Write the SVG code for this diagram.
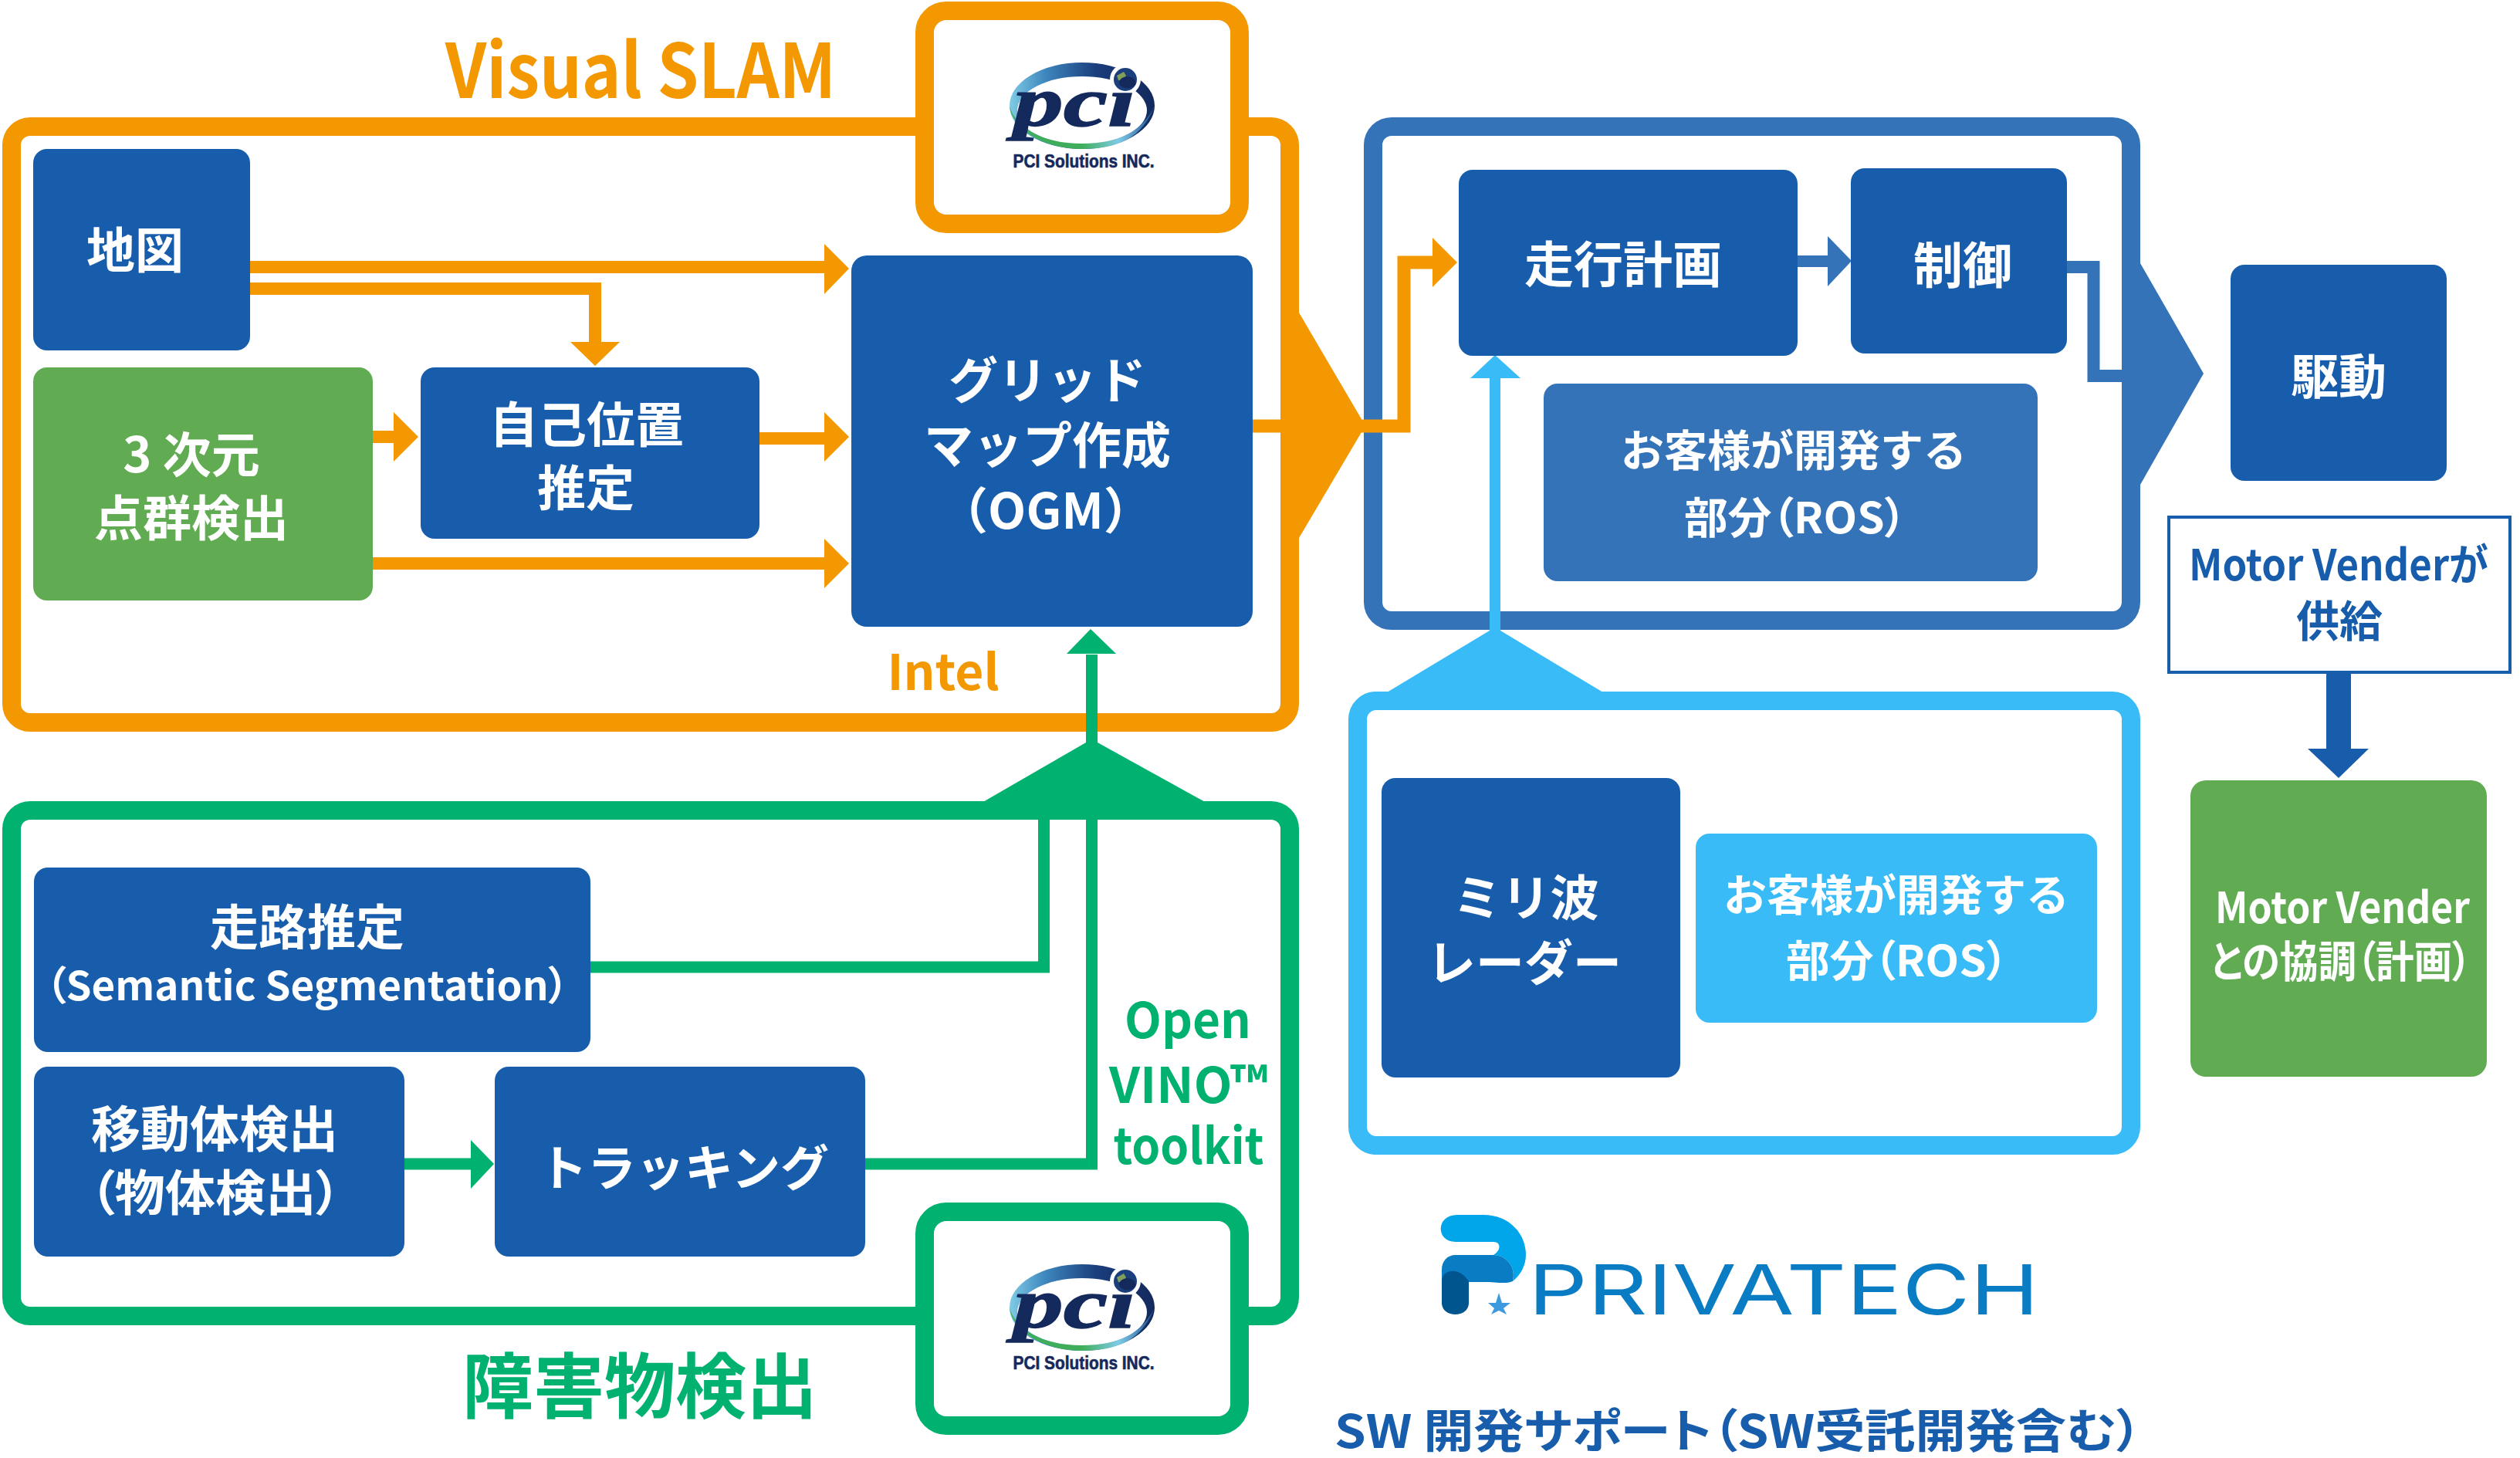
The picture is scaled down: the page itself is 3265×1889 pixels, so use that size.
<svg xmlns="http://www.w3.org/2000/svg" width="3265" height="1889" viewBox="0 0 3265 1889">
<style>
text{font-family:"Noto Sans CJK JP","Noto Sans",sans-serif;font-weight:700;text-anchor:middle}
.w{fill:#fff}.o{fill:#f39800}.g{fill:#00b16f}.b{fill:#175dac}.m{fill:#3573b9}.s{fill:#38bbf7}.l{fill:#61ab52}
.f{fill:none;stroke-width:24}
.pa{font-feature-settings:"palt"}
.p{font-family:"Liberation Sans",Arial,sans-serif;font-weight:700;fill:#14295c;stroke:#14295c;stroke-width:.6}
.pc{font-family:"Liberation Serif","Times New Roman",serif;font-weight:700;font-style:italic;fill:#14295c;stroke:#14295c;stroke-width:1.5}
.t60{font-size:63px}.t56{font-size:56px}
</style>
<defs>
<linearGradient id="ring" x1="0" y1="0.5" x2="1" y2="0.5"><stop offset="0" stop-color="#7fcbe6"/><stop offset="0.25" stop-color="#3d86bd"/><stop offset="0.6" stop-color="#1a3d7c"/><stop offset="1" stop-color="#14295c"/></linearGradient>
<linearGradient id="ringlow" x1="0" y1="0" x2="1" y2="0"><stop offset="0" stop-color="#3fae5a"/><stop offset="0.5" stop-color="#3fae5a"/><stop offset="0.75" stop-color="#7fcbe6"/><stop offset="1" stop-color="#1a4f92"/></linearGradient>
</defs>
<rect width="3265" height="1889" fill="#fff"/>

<g id="frame-slam"><rect class="f" x="15" y="164" width="1656" height="772" rx="24" stroke="#f39800"/>
<polygon class="o" points="1683,405 1764,543 1764,560 1683,697"/>
<text class="o" x="830" y="127" font-size="97" textLength="506" lengthAdjust="spacingAndGlyphs">Visual SLAM</text>
<text class="o" x="1222" y="894" font-size="64">Intel</text></g>
<g id="logo-pci-top"><rect class="f" x="1198" y="14" width="408" height="276" rx="28" style="fill:#fff" stroke="#f39800"/>
<path d="M1308,137a94,56 0 1 1 188,0a94,56 0 1 1-188,0ZM1318,143a84,44 0 1 0 168,0a84,44 0 1 0-168,0Z" fill-rule="evenodd" fill="url(#ring)"/>
<path d="M1308,137C1310,165 1350,193 1402,193C1450,193 1480,178 1496,137C1480,170 1450,186 1402,186C1350,186 1315,165 1308,137Z" fill="url(#ringlow)"/>
<circle cx="1458" cy="103" r="20" fill="#fff"/><circle cx="1458" cy="103" r="15" fill="#1b3f7c"/><path d="M1447,98l9-5 3,5-5,7-5-1ZM1458,110l8-2-2,5Z" fill="#7f9f5a"/>
<text class="pc" x="1392" y="163" font-size="90" textLength="158" lengthAdjust="spacingAndGlyphs">pci</text>
<text class="p" x="1404" y="217" font-size="23" textLength="183" lengthAdjust="spacingAndGlyphs">PCI Solutions INC.</text></g>

<g id="frame-obstacle"><rect class="f" x="15" y="1050" width="1656" height="655" rx="24" stroke="#00b16f"/>
<polygon class="g" points="1272,1040 1407,962 1422,962 1563,1040"/>
<text class="g" x="829" y="1830" font-size="92" textLength="460" lengthAdjust="spacingAndGlyphs">障害物検出</text>
<text class="g" x="1539" y="1345" font-size="64" textLength="164" lengthAdjust="spacingAndGlyphs">Open</text>
<text class="g" x="1540" y="1429" font-size="64" textLength="206" lengthAdjust="spacingAndGlyphs">VINO™</text>
<text class="g" x="1540" y="1508" font-size="64" textLength="195" lengthAdjust="spacingAndGlyphs">toolkit</text></g>
<g id="logo-pci-bottom" transform="translate(0,1557)"><rect class="f" x="1198" y="13" width="408" height="277" rx="28" style="fill:#fff" stroke="#00b16f"/>
<path d="M1308,137a94,56 0 1 1 188,0a94,56 0 1 1-188,0ZM1318,143a84,44 0 1 0 168,0a84,44 0 1 0-168,0Z" fill-rule="evenodd" fill="url(#ring)"/>
<path d="M1308,137C1310,165 1350,193 1402,193C1450,193 1480,178 1496,137C1480,170 1450,186 1402,186C1350,186 1315,165 1308,137Z" fill="url(#ringlow)"/>
<circle cx="1458" cy="103" r="20" fill="#fff"/><circle cx="1458" cy="103" r="15" fill="#1b3f7c"/><path d="M1447,98l9-5 3,5-5,7-5-1ZM1458,110l8-2-2,5Z" fill="#7f9f5a"/>
<text class="pc" x="1392" y="163" font-size="90" textLength="158" lengthAdjust="spacingAndGlyphs">pci</text>
<text class="p" x="1404" y="217" font-size="23" textLength="183" lengthAdjust="spacingAndGlyphs">PCI Solutions INC.</text></g>

<g id="frame-plan"><rect class="f" x="1779" y="164" width="982" height="640" rx="24" stroke="#3573b9"/>
<polygon class="m" points="2773,341 2855,484 2773,628"/></g>
<g id="frame-radar"><rect class="f" x="1759" y="908" width="1002" height="576" rx="24" stroke="#38bbf7"/>
<polygon class="s" points="1797,897 1930,817 1944,817 2077,897"/></g>

<g id="connectors">
<g fill="none" stroke="#f39800">
<path stroke-width="16" d="M324,346H1070"/>
<path stroke-width="16" d="M324,374H771V445"/>
<path stroke-width="16" d="M483,566H510"/>
<path stroke-width="16" d="M984,568H1070"/>
<path stroke-width="16" d="M483,730H1070"/>
<path stroke-width="17" d="M1623,552H1819V340H1858"/></g>
<polygon class="o" points="739,443 803,443 771,474"/>
<polygon class="o" points="510,534 542,566 510,598"/>
<polygon class="o" points="1068,316 1100,348 1068,381"/>
<polygon class="o" points="1068,534 1100,566 1068,598"/>
<polygon class="o" points="1068,698 1100,730 1068,762"/>
<polygon class="o" points="1856,308 1888,340 1856,372"/>
<g fill="none" stroke="#00b16f" stroke-width="15">
<path d="M1414.500,962V848"/><path d="M1414.500,1061V1508H1121"/><path d="M765,1253H1352.500V1061"/><path d="M524,1508H612"/></g>
<polygon class="g" points="1382,847 1446,847 1413,815"/>
<polygon class="g" points="610,1477 640,1508 610,1540"/>
<g fill="none" stroke="#3573b9"><path stroke-width="15" d="M2329,338.500H2370"/><path stroke-width="16" d="M2678,346H2712.500V487H2750"/></g>
<polygon class="m" points="2368,306 2399,338 2368,371"/>
<path d="M1937,820V488" fill="none" stroke="#38bbf7" stroke-width="14"/>
<polygon class="s" points="1905,490 1970,490 1937,460"/>
<path d="M3030,871V972" fill="none" stroke="#175dac" stroke-width="32"/>
<polygon class="b" points="2990,970 3069,970 3030,1008"/>
</g>

<g id="n-map"><rect class="b" x="43" y="193" width="281" height="261" rx="18"/><text class="w t60" x="175" y="347">地図</text></g>
<g id="n-3d"><rect class="l" x="43" y="476" width="440" height="302" rx="18"/><text class="w t60" x="248" y="612" xml:space="preserve">3 次元</text><text class="w t60" x="248" y="694">点群検出</text></g>
<g id="n-loc"><rect class="b" x="545" y="476" width="439" height="222" rx="18"/><text class="w t60" x="760" y="573">自己位置</text><text class="w t60" x="759" y="655">推定</text></g>
<g id="n-ogm"><rect class="b" x="1103" y="331" width="520" height="481" rx="20"/><text class="w" font-size="64" x="1357" y="516">グリッド</text><text class="w" font-size="64" x="1357" y="600">マップ作成</text><text class="w" font-size="64" x="1355" y="685">（OGM）</text></g>
<g id="n-plan"><rect class="b" x="1890" y="220" width="439" height="241" rx="18"/><text class="w" font-size="64" x="2103" y="366">走行計画</text></g>
<g id="n-ctrl"><rect class="b" x="2398" y="218" width="280" height="240" rx="18"/><text class="w" font-size="64" x="2543" y="367">制御</text></g>
<g id="n-ros1"><rect class="m" x="2000" y="497" width="640" height="256" rx="18"/><text class="w t56" x="2324" y="604">お客様が開発する</text><text class="w t56 pa" x="2326" y="691" textLength="288" lengthAdjust="spacingAndGlyphs">部分（ROS）</text></g>
<g id="n-drive"><rect class="b" x="2890" y="343" width="280" height="280" rx="18"/><text class="w" font-size="62" x="3030" y="511">駆動</text></g>
<g id="n-vendor"><rect x="2810" y="670" width="442" height="201" fill="#fff" stroke="#175dac" stroke-width="4"/><text class="b t56" x="3030" y="752" textLength="388" lengthAdjust="spacingAndGlyphs">Motor Venderが</text><text class="b t56" x="3031" y="825">供給</text></g>
<g id="n-coop"><rect class="l" x="2838" y="1011" width="384" height="384" rx="20"/><text class="w" font-size="56" x="3035" y="1196" textLength="330" lengthAdjust="spacingAndGlyphs">Motor Vender</text><text class="w pa" font-size="56" x="3033" y="1266" textLength="338" lengthAdjust="spacingAndGlyphs">との協調（計画）</text></g>
<g id="n-road"><rect class="b" x="44" y="1124" width="721" height="239" rx="18"/><text class="w t60" x="398" y="1224">走路推定</text><text class="w pa" font-size="52" x="398" y="1296" textLength="678" lengthAdjust="spacingAndGlyphs">（Semantic Segmentation）</text></g>
<g id="n-move"><rect class="b" x="44" y="1382" width="480" height="246" rx="18"/><text class="w" font-size="64" x="278" y="1486">移動体検出</text><text class="w t60 pa" x="279" y="1568" textLength="326" lengthAdjust="spacingAndGlyphs">（物体検出）</text></g>
<g id="n-track"><rect class="b" x="641" y="1382" width="480" height="246" rx="18"/><text class="w t60" x="886" y="1536">トラッキング</text></g>
<g id="n-radar"><rect class="b" x="1790" y="1008" width="387" height="388" rx="18"/><text class="w t60" x="1977" y="1186">ミリ波</text><text class="w t60" x="1975" y="1270">レーダー</text></g>
<g id="n-ros2"><rect class="s" x="2197" y="1080" width="520" height="245" rx="18"/><text class="w t56" x="2457" y="1180">お客様が開発する</text><text class="w t56 pa" x="2458" y="1265" textLength="288" lengthAdjust="spacingAndGlyphs">部分（ROS）</text></g>

<g id="logo-privatech">
<path d="M1888,1574H1922C1957,1574 1977,1600 1977,1625C1977,1640 1970,1652 1960,1660C1965,1640 1950,1626 1935,1626C1945,1620 1945,1609 1935,1609H1886C1860,1609 1860,1574 1888,1574Z" fill="#00a6e9"/>
<path d="M1886,1626H1935C1950,1626 1965,1640 1960,1660C1950,1664 1940,1661 1922,1661H1903V1690H1868V1645C1868,1634 1875,1626 1886,1626Z" fill="#0a7cc4"/>
<path d="M1868,1660C1868,1645 1890,1640 1903,1660V1688C1903,1708 1868,1708 1868,1688Z" fill="#00558f"/>
<polygon points="1942,1675 1946,1688 1957,1688 1948,1695 1952,1703 1942,1698 1932,1703 1936,1695 1928,1688 1938,1688" fill="#3e9ade"/>
<text x="2311" y="1703" font-size="90" style="font-family:'Inter','Liberation Sans',sans-serif;font-weight:400;fill:#0a7cc4" textLength="662" lengthAdjust="spacingAndGlyphs">PRIVATECH</text>
<text class="b pa" x="2252" y="1876" font-size="60" textLength="1046" lengthAdjust="spacingAndGlyphs">SW 開発サポート（SW受託開発含む）</text>
</g>
</svg>
